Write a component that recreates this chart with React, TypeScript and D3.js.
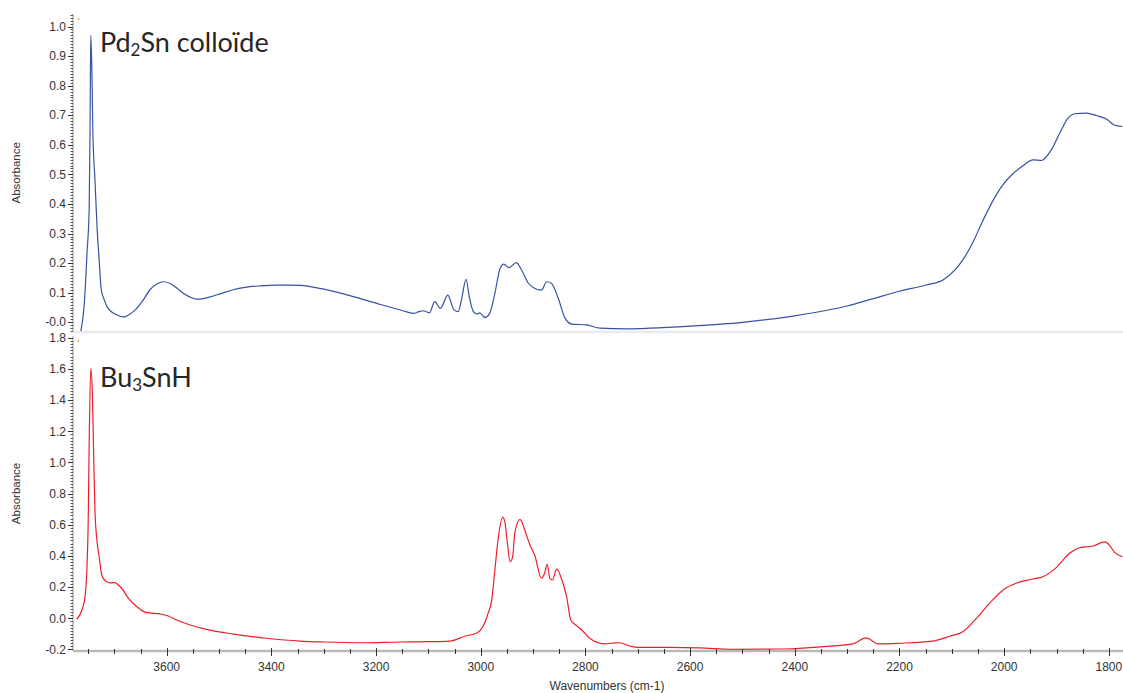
import React from "react";
import * as d3 from "d3";

// ---- data ----
const topWn = [3764, 3758, 3752, 3748, 3746, 3745, 3743, 3741, 3737, 3733, 3729, 3725, 3719, 3714, 3705, 3695, 3683, 3670, 3660, 3645, 3632, 3618, 3607, 3594, 3580, 3569, 3555, 3542, 3530, 3517, 3495, 3473, 3450, 3422, 3390, 3364, 3345, 3300, 3250, 3193, 3150, 3129, 3118, 3110, 3098, 3088, 3077, 3063, 3051, 3043, 3037, 3028, 3022, 3014, 3007, 3002, 2992, 2983, 2973, 2963, 2956, 2946, 2932, 2922, 2909, 2900, 2884, 2874, 2865, 2852, 2839, 2826, 2798, 2772, 2720, 2677, 2600, 2500, 2400, 2300, 2250, 2200, 2149, 2117, 2094, 2079, 2059, 2043, 2024, 2005, 1986, 1964, 1945, 1929, 1910, 1894, 1878, 1865, 1843, 1824, 1802, 1790, 1774];
const topAbs = [-0.03, 0.05, 0.24, 0.39, 0.76, 0.97, 0.86, 0.64, 0.48, 0.32, 0.21, 0.11, 0.075, 0.053, 0.035, 0.025, 0.018, 0.028, 0.042, 0.075, 0.11, 0.13, 0.137, 0.132, 0.115, 0.099, 0.085, 0.078, 0.08, 0.086, 0.098, 0.11, 0.118, 0.123, 0.126, 0.126, 0.125, 0.112, 0.09, 0.061, 0.04, 0.03, 0.036, 0.039, 0.032, 0.07, 0.047, 0.092, 0.042, 0.036, 0.075, 0.145, 0.087, 0.036, 0.028, 0.032, 0.016, 0.03, 0.098, 0.183, 0.197, 0.185, 0.202, 0.177, 0.132, 0.118, 0.109, 0.137, 0.132, 0.081, 0.014, -0.006, -0.009, -0.02, -0.022, -0.02, -0.013, 0.0, 0.022, 0.055, 0.08, 0.105, 0.126, 0.143, 0.177, 0.211, 0.273, 0.335, 0.403, 0.459, 0.498, 0.529, 0.549, 0.547, 0.583, 0.639, 0.69, 0.705, 0.707, 0.699, 0.684, 0.667, 0.662];

const botWn = [3772, 3762, 3756, 3752, 3750, 3748, 3745, 3742, 3740, 3737, 3734, 3729, 3724, 3715, 3707, 3699, 3693, 3686, 3673, 3657, 3638, 3613, 3597, 3581, 3555, 3524, 3473, 3409, 3345, 3300, 3230, 3154, 3100, 3059, 3028, 3008, 2996, 2986, 2979, 2973, 2967, 2958, 2954, 2949, 2944, 2939, 2935, 2925, 2916, 2906, 2897, 2884, 2878, 2873, 2868, 2863, 2855, 2846, 2836, 2828, 2817, 2807, 2792, 2763, 2750, 2735, 2715, 2700, 2638, 2582, 2519, 2421, 2338, 2289, 2264, 2240, 2200, 2136, 2104, 2079, 2053, 2028, 2002, 1977, 1945, 1926, 1900, 1875, 1856, 1830, 1808, 1799, 1790, 1774];
const botAbs = [-0.006, 0.053, 0.139, 0.353, 0.61, 1.144, 1.605, 1.444, 1.123, 0.684, 0.524, 0.395, 0.278, 0.235, 0.228, 0.229, 0.215, 0.193, 0.128, 0.074, 0.036, 0.028, 0.015, -0.011, -0.043, -0.071, -0.101, -0.128, -0.146, -0.152, -0.157, -0.152, -0.15, -0.146, -0.112, -0.096, -0.054, 0.032, 0.117, 0.31, 0.503, 0.648, 0.62, 0.481, 0.363, 0.395, 0.546, 0.635, 0.567, 0.47, 0.406, 0.257, 0.289, 0.347, 0.257, 0.246, 0.315, 0.257, 0.139, -0.011, -0.047, -0.075, -0.128, -0.164, -0.16, -0.157, -0.178, -0.187, -0.187, -0.19, -0.2, -0.197, -0.18, -0.164, -0.126, -0.164, -0.16, -0.146, -0.115, -0.086, 0.0, 0.096, 0.182, 0.225, 0.252, 0.267, 0.327, 0.417, 0.453, 0.464, 0.49, 0.47, 0.427, 0.395];

const xTicks = [3600, 3400, 3200, 3000, 2800, 2600, 2400, 2200, 2000, 1800];
const topYTicks = [0, 0.1, 0.2, 0.3, 0.4, 0.5, 0.6, 0.7, 0.8, 0.9, 1.0];
const topYLabels = ["-0.0", "0.1", "0.2", "0.3", "0.4", "0.5", "0.6", "0.7", "0.8", "0.9", "1.0"];
const botYTicks = [-0.2, 0, 0.2, 0.4, 0.6, 0.8, 1.0, 1.2, 1.4, 1.6, 1.8];
const botYLabels = ["-0.2", "0.0", "0.2", "0.4", "0.6", "0.8", "1.0", "1.2", "1.4", "1.6", "1.8"];

const topTitle = { main: "Pd", sub: "2", rest: "Sn colloïde" };
const botTitle = { main: "Bu", sub: "3", rest: "SnH" };
const yTitle = "Absorbance";
const xTitle = "Wavenumbers (cm-1)";

// ---- layout ----
const W = 1123, H = 693;
const L = 73, R = 1123;
const topPanel = { y0: 14, y1: 331.7 };
const botPanel = { y0: 336.3, y1: 650.6 };
const BLUE = "#3652a3";
const RED = "#ee1d2a";
const FONT = "'Liberation Sans', Arial, sans-serif";
const TITLE_FONT = "Lato, 'Open Sans', sans-serif";
const LABEL = "#333333";

const x = d3.scaleLinear().domain([3779, 1773]).range([L, R]);
const yTop = d3.scaleLinear().domain([-0.0318, 1.0423]).range([topPanel.y1, topPanel.y0]);
const yBot = d3.scaleLinear().domain([-0.2073, 1.81]).range([botPanel.y1, botPanel.y0]);

function YAxis({ y, ticks, labels, minorStep, panel }) {
  const [d0, d1] = y.domain();
  const minors = d3.range(Math.ceil(d0 / minorStep) * minorStep, d1, minorStep);
  return (
    <g>
      <line x1={L} x2={L} y1={panel.y0} y2={panel.y1} stroke="#8a8a8a" strokeWidth={1} />
      {minors.map((m, i) => (
        <line key={"m" + i} x1={L - 2.5} x2={L} y1={Math.round(y(m)) + 0.5} y2={Math.round(y(m)) + 0.5} stroke="#555" strokeWidth={1} />
      ))}
      {ticks.map((t, i) => (
        <g key={"t" + i}>
          <line x1={L - 5} x2={L} y1={Math.round(y(t)) + 0.5} y2={Math.round(y(t)) + 0.5} stroke="#333" strokeWidth={1} />
          <text x={L - 7} y={y(t)} dy="0.35em" textAnchor="end" fontFamily={FONT} fontSize={12} fill={LABEL}>
            {labels[i]}
          </text>
        </g>
      ))}
    </g>
  );
}

function Title({ t, yBase }) {
  return (
    <text x={100} y={yBase} fontFamily={TITLE_FONT} fontSize={27} fill="#262626">
      {t.main}
      <tspan fontSize={17} dy={4}>{t.sub}</tspan>
      <tspan dy={-4}>{t.rest}</tspan>
    </text>
  );
}

export default function App() {
  const lineTop = d3
    .line<number>()
    .x((_, i) => x(topWn[i]))
    .y((d) => yTop(d))
    .curve(d3.curveMonotoneX);
  const lineBot = d3
    .line<number>()
    .x((_, i) => x(botWn[i]))
    .y((d) => yBot(d))
    .curve(d3.curveMonotoneX);

  const xMinor = d3.range(3750, 1773, -50);

  return (
    <svg width={W} height={H} style={{ position: "absolute", left: 0, top: 0, background: "#fff" }}>
      <defs>
        <clipPath id="clipTop">
          <rect x={L} y={topPanel.y0} width={R - L} height={topPanel.y1 - topPanel.y0} />
        </clipPath>
        <clipPath id="clipBot">
          <rect x={L} y={botPanel.y0} width={R - L} height={botPanel.y1 - botPanel.y0} />
        </clipPath>
      </defs>

      {/* separator between panels */}
      <rect x={L} y={topPanel.y1 - 1} width={R - L} height={2.5} fill="#e9ecef" />

      {/* top panel */}
      <YAxis y={yTop} ticks={topYTicks} labels={topYLabels} minorStep={0.01} panel={topPanel} />
      <path d={lineTop(topAbs) || ""} fill="none" stroke={BLUE} strokeWidth={1.2} clipPath="url(#clipTop)" />
      <rect x={78} y={18} width={1} height={2} fill="#e08a2c" />
      <Title t={topTitle} yBase={52} />
      <text transform={`translate(20,${(topPanel.y0 + topPanel.y1) / 2}) rotate(-90)`} textAnchor="middle" fontFamily={FONT} fontSize={11.5} fill={LABEL}>
        {yTitle}
      </text>

      {/* bottom panel */}
      <YAxis y={yBot} ticks={botYTicks} labels={botYLabels} minorStep={0.02} panel={botPanel} />
      <path d={lineBot(botAbs) || ""} fill="none" stroke={RED} strokeWidth={1.2} clipPath="url(#clipBot)" />
      <rect x={78} y={340} width={1} height={2} fill="#e08a2c" />
      <Title t={botTitle} yBase={387} />
      <text transform={`translate(20,${(botPanel.y0 + botPanel.y1) / 2}) rotate(-90)`} textAnchor="middle" fontFamily={FONT} fontSize={11.5} fill={LABEL}>
        {yTitle}
      </text>

      {/* x axis */}
      <rect x={L} y={649.8} width={R - L} height={2.4} fill="#b9b9b9" />
      {xMinor.map((m, i) => (
        <line key={"xm" + i} x1={Math.round(x(m)) + 0.5} x2={Math.round(x(m)) + 0.5} y1={649} y2={654} stroke="#333" strokeWidth={1} />
      ))}
      {xTicks.map((t, i) => (
        <g key={"xt" + i}>
          <line x1={Math.round(x(t)) + 0.5} x2={Math.round(x(t)) + 0.5} y1={648} y2={656} stroke="#333" strokeWidth={1} />
          <text x={x(t)} y={671} textAnchor="middle" fontFamily={FONT} fontSize={12} fill={LABEL}>
            {t}
          </text>
        </g>
      ))}
      <text x={607} y={690} textAnchor="middle" fontFamily={FONT} fontSize={12} fill={LABEL}>
        {xTitle}
      </text>
    </svg>
  );
}
